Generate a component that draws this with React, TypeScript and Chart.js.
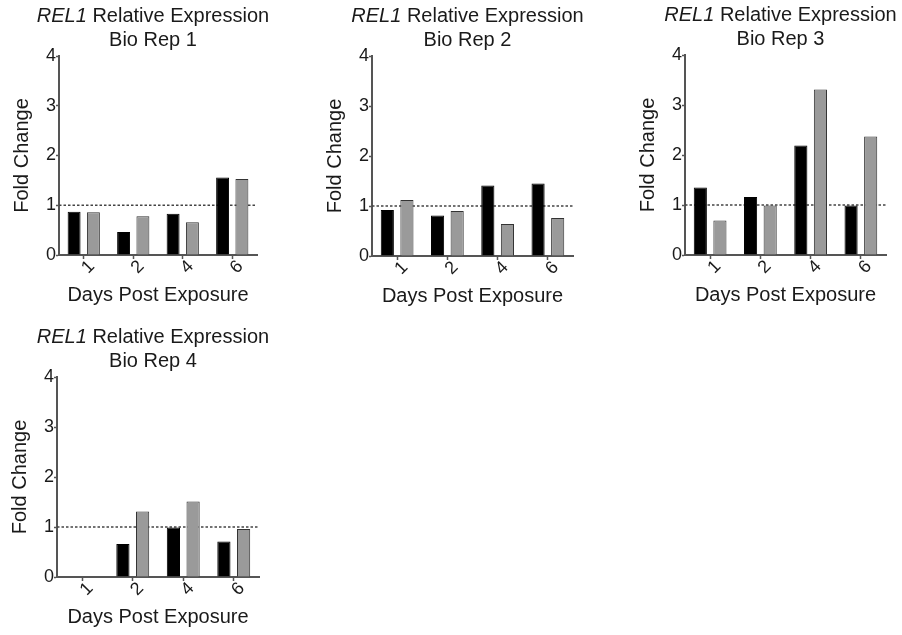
import React, { useEffect, useRef } from "react";
import { Chart, registerables } from "chart.js";

Chart.register(...registerables);

// ---------- data ----------
const days = ["1", "2", "4", "6"];
const geneName = "REL1";
const titleRest = " Relative Expression";
const repLabels = ["Bio Rep 1", "Bio Rep 2", "Bio Rep 3", "Bio Rep 4"];
const seriesNames = ["Series 1", "Series 2"];

const rep1Black = [0.87, 0.46, 0.83, 1.56];
const rep1Grey = [0.86, 0.78, 0.66, 1.53];
const rep2Black = [0.92, 0.81, 1.41, 1.45];
const rep2Grey = [1.12, 0.9, 0.64, 0.76];
const rep3Black = [1.35, 1.16, 2.19, 0.99];
const rep3Grey = [0.69, 0.99, 3.31, 2.37];
const rep4Black = [null, 0.66, 0.99, 0.71];
const rep4Grey = [null, 1.31, 1.51, 0.96];

const yMin = 0;
const yMax = 4;
const yStep = 1;
const referenceLevel = 1;

const blackSeries = [rep1Black, rep2Black, rep3Black, rep4Black];
const greySeries = [rep1Grey, rep2Grey, rep3Grey, rep4Grey];

// ---------- layout (chart-area boxes, page pixels) ----------
const PANELS = [
  { left: 59, right: 257, top: 56, bottom: 255 },
  { left: 372, right: 573, top: 56, bottom: 256 },
  { left: 685, right: 886, top: 55, bottom: 255 },
  { left: 57, right: 259, top: 377, bottom: 577 },
];

const FONT = "'Liberation Sans', Arial, Helvetica, sans-serif";
const TEXT = "#1a1a1a";
const AXIS = "#555555";

const decorPlugin = {
  id: "panelDecor",
  beforeDatasetsDraw(chart: any, _args: any, opts: any) {
    const { ctx, chartArea, scales } = chart;
    const y = scales.y.getPixelForValue(opts.level);
    ctx.save();
    ctx.strokeStyle = "#444444";
    ctx.lineWidth = 1.5;
    ctx.setLineDash([2.5, 2]);
    ctx.beginPath();
    ctx.moveTo(chartArea.left, y);
    ctx.lineTo(chartArea.right, y);
    ctx.stroke();
    ctx.restore();
  },
  afterDraw(chart: any, _args: any, opts: any) {
    const { ctx, chartArea } = chart;
    const cx = (chartArea.left + chartArea.right) / 2 - 5;
    ctx.save();
    ctx.fillStyle = TEXT;
    ctx.textBaseline = "alphabetic";
    ctx.textAlign = "left";
    ctx.font = `italic 20px ${FONT}`;
    const w1 = ctx.measureText(opts.gene).width;
    ctx.font = `20px ${FONT}`;
    const w2 = ctx.measureText(opts.rest).width;
    const x0 = cx - (w1 + w2) / 2;
    const y1 = chartArea.top - 34.5;
    ctx.font = `italic 20px ${FONT}`;
    ctx.fillText(opts.gene, x0, y1);
    ctx.font = `20px ${FONT}`;
    ctx.fillText(opts.rest, x0 + w1, y1);
    ctx.textAlign = "center";
    ctx.fillText(opts.rep, cx, chartArea.top - 10.5);
    ctx.restore();
  },
};

function Panel({ index }: { index: number }) {
  const ref = useRef<HTMLCanvasElement | null>(null);
  const p = PANELS[index];
  const canvasLeft = Math.max(0, p.left - 59);
  const canvasTop = p.top - 56;
  const canvasW = Math.min(902 - canvasLeft, p.right + 43 - canvasLeft);
  const canvasH = p.bottom + 60 - canvasTop;
  const yW = p.left - canvasLeft;
  const padRight = canvasLeft + canvasW - p.right;
  const xH = canvasTop + canvasH - p.bottom;

  useEffect(() => {
    if (!ref.current) return;
    const chart = new Chart(ref.current, {
      type: "bar",
      data: {
        labels: days,
        datasets: [
          {
            label: seriesNames[0],
            data: blackSeries[index],
            backgroundColor: "#000000",
            borderColor: "#000000",
            borderWidth: 1,
            barPercentage: 0.67,
            categoryPercentage: 0.78,
          },
          {
            label: seriesNames[1],
            data: greySeries[index],
            backgroundColor: "#9a9a9a",
            borderColor: "#333333",
            borderWidth: 1,
            barPercentage: 0.67,
            categoryPercentage: 0.78,
          },
        ],
      },
      options: {
        responsive: false,
        animation: false,
        devicePixelRatio: 1,
        layout: { padding: { top: 56, right: padRight, left: 0, bottom: 0 } },
        plugins: {
          legend: { display: false },
          title: { display: false },
          tooltip: { enabled: false },
          panelDecor: {
            level: referenceLevel,
            gene: geneName,
            rest: titleRest,
            rep: repLabels[index],
          },
        } as any,
        scales: {
          x: {
            offset: true,
            grid: {
              offset: false,
              drawOnChartArea: false,
              drawTicks: true,
              tickLength: 4,
              color: AXIS,
              tickWidth: 1.5,
            },
            border: { display: true, color: AXIS, width: 2 },
            ticks: {
              color: TEXT,
              font: { family: FONT, size: 18 },
              minRotation: 45,
              maxRotation: 45,
              labelOffset: 8,
              padding: -3,
            },
            title: {
              display: true,
              text: "Days Post Exposure",
              color: TEXT,
              font: { family: FONT, size: 20 },
              padding: { top: 0, bottom: 8 },
            },
            afterFit: (s: any) => {
              s.height = xH;
            },
          },
          y: {
            min: yMin,
            max: yMax,
            grid: {
              drawOnChartArea: false,
              drawTicks: true,
              tickLength: 3,
              color: AXIS,
              tickWidth: 1.5,
            },
            border: { display: true, color: AXIS, width: 2 },
            ticks: {
              stepSize: yStep,
              color: TEXT,
              font: { family: FONT, size: 18 },
              padding: 0,
            },
            title: {
              display: true,
              text: "Fold Change",
              color: TEXT,
              font: { family: FONT, size: 20 },
              padding: { top: yW - 49, bottom: 0 },
            },
            afterFit: (s: any) => {
              s.width = yW;
            },
          },
        },
      },
      plugins: [decorPlugin as any],
    });
    return () => chart.destroy();
  }, [index]);

  return (
    <canvas
      ref={ref}
      width={canvasW}
      height={canvasH}
      style={{
        position: "absolute",
        left: canvasLeft,
        top: canvasTop,
        width: canvasW,
        height: canvasH,
      }}
    />
  );
}

export default function App() {
  return (
    <div
      style={{
        position: "fixed",
        left: 0,
        top: 0,
        width: 902,
        height: 635,
        overflow: "hidden",
        background: "#ffffff",
      }}
    >
      {PANELS.map((_, i) => (
        <Panel key={i} index={i} />
      ))}
    </div>
  );
}
